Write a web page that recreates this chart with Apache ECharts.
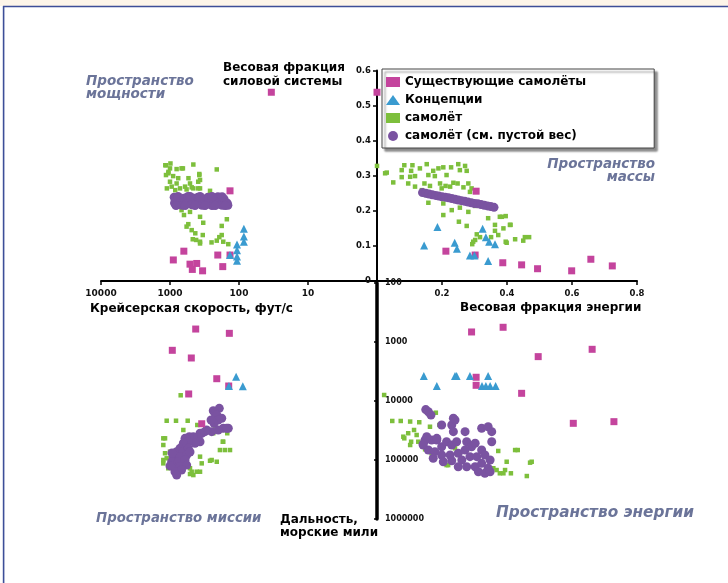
<!DOCTYPE html>
<html><head><meta charset="utf-8">
<script src="https://cdn.jsdelivr.net/npm/echarts@6/dist/echarts.min.js"></script>
<style>html,body{margin:0;padding:0;background:#fff}#c{width:728px;height:583px}</style>
</head><body><div id="c"></div>
<script>
// Legend names
const seriesNames = ['Существующие самолёты', 'Концепции', 'самолёт', 'самолёт (см. пустой вес)'];
// Tick values
const speedTicks = [1, 10, 100, 1000, 10000];
const fracTicks = [0, 0.2, 0.4, 0.6, 0.8];
const pwrTicks = [0, 0.1, 0.2, 0.3, 0.4, 0.5, 0.6];
const rangeTicks = [100, 1000, 10000, 100000, 1000000];

// ---- Power space: [cruise speed ft/s, power system weight fraction]
const spdPwr_existing = [[34,0.538],[135,0.257],[895,0.06],[630,0.085],[513,0.048],[475,0.033],[410,0.05],[337,0.029],[203,0.074],[172,0.041],[135,0.074]];
const spdPwr_concepts = [[85,0.149],[85,0.127],[85,0.112],[107,0.104],[107,0.088],[107,0.070],[107,0.058],[135,0.074]];
const spdPwr_aircraft = [[1143,0.330],[1000,0.321],[802,0.319],[650,0.321],[459,0.332],[210,0.318],[1055,0.307],[900,0.299],[760,0.293],[540,0.293],[376,0.302],[367,0.288],[1000,0.283],[802,0.278],[605,0.269],[485,0.267],[390,0.264],[263,0.257],[1110,0.264],[840,0.259],
 [1170,0.330],[1055,0.311],[1143,0.302],[985,0.335],[680,0.321],[376,0.305],[390,0.283],[513,0.278],[716,0.264],[575,0.261],[459,0.264],[367,0.264],[945,0.269],
 [680,0.202],[513,0.197],[367,0.183],[627,0.188],[543,0.162],[485,0.145],[430,0.136],[575,0.155],[330,0.166],[150,0.176],[178,0.157],[178,0.131],[468,0.119],[418,0.117],[367,0.112],[335,0.131],[250,0.110],[210,0.115],[193,0.125],[169,0.112],[143,0.105],[367,0.107]];
const spdPwr_empty = [[870,0.239],[860,0.222],[840,0.230],[818,0.217],[765,0.241],[716,0.225],[670,0.216],[627,0.236],[586,0.219],[548,0.241],[513,0.228],[480,0.217],[449,0.236],[420,0.219],[393,0.239],[367,0.225],[344,0.216],[321,0.234],[301,0.217],[281,0.239],[263,0.222],[246,0.215],[230,0.234],[215,0.217],[202,0.240],[189,0.225],[176,0.216],[165,0.234],[154,0.217],[148,0.222],[145,0.216],[818,0.215],[605,0.215],[434,0.215],[311,0.215],[513,0.241],[367,0.241],[246,0.241],[176,0.240],[222,0.215],[159,0.215]];

// ---- Mass space: [energy weight fraction, power system weight fraction]
const enPwr_existing = [[0,0.538],[0.305,0.256],[0.212,0.085],[0.302,0.074],[0.387,0.052],[0.445,0.046],[0.494,0.035],[0.599,0.029],[0.658,0.062],[0.724,0.043]];
const enPwr_concepts = [[0.145,0.101],[0.186,0.154],[0.239,0.109],[0.246,0.092],[0.286,0.073],[0.300,0.073],[0.325,0.149],[0.335,0.125],[0.345,0.112],[0.363,0.105],[0.342,0.057]];
const enPwr_aircraft = [[0,0.328],[0.030,0.309],[0.050,0.281],[0.084,0.330],[0.076,0.316],[0.105,0.314],[0.109,0.330],[0.132,0.321],[0.153,0.333],[0.158,0.302],[0.117,0.299],[0.102,0.297],[0.096,0.278],[0.117,0.269],[0.146,0.278],[0.138,0.259],[0.173,0.314],[0.178,0.299],[0.189,0.321],[0.204,0.324],[0.214,0.302],[0.211,0.271],[0.228,0.324],[0.235,0.280],[0.250,0.333],[0.255,0.316],[0.271,0.328],[0.276,0.314],[0.248,0.278],[0.266,0.267],[0.281,0.278],[0.291,0.264],[0.286,0.254],[0.225,0.269],[0.194,0.278],[0.199,0.264],[0.163,0.271],[0.153,0.245],[0.025,0.307],[0.076,0.296],
 [0.158,0.223],[0.204,0.221],[0.230,0.202],[0.204,0.188],[0.255,0.209],[0.281,0.197],[0.302,0.214],[0.342,0.179],[0.378,0.183],[0.396,0.185],[0.363,0.160],[0.389,0.150],[0.409,0.160],[0.252,0.169],[0.276,0.157],[0.302,0.117],[0.293,0.105],[0.373,0.131],[0.396,0.112],[0.425,0.119],[0.455,0.125],[0.468,0.125],[0.450,0.115],[0.317,0.125],[0.351,0.125],[0.384,0.183],[0.411,0.160],[0.363,0.143],[0.307,0.133],[0.296,0.112],[0.399,0.109]];
const enPwr_empty = [[0.14,0.252],[0.15,0.250],[0.16,0.248],[0.17,0.246],[0.18,0.244],[0.19,0.242],[0.20,0.240],[0.21,0.239],[0.22,0.237],[0.23,0.235],[0.24,0.233],[0.25,0.231],[0.26,0.229],[0.27,0.227],[0.28,0.225],[0.29,0.223],[0.30,0.221],[0.31,0.220],[0.32,0.218],[0.33,0.216],[0.34,0.214],[0.35,0.212],[0.36,0.210]];

// ---- Mission space: [cruise speed ft/s, range nmi]
const spdRange_existing = [[424,603],[138,713],[926,1383],[491,1866],[210,4190],[141,5570],[536,7600],[347,24300]];
const spdRange_concepts = [[110,3870],[140,5570],[88,5640]];
const spdRange_aircraft = [[700,8000],[1117,21600],[818,21600],[554,21600],[189,13300],[641,31000],[1180,42900],[1250,55700],[1180,76900],[1250,114000],[1059,138000],[513,138000],[410,158000],[513,173000],[347,114000],[249,100000],[210,107000],[189,67800],[160,67800],[135,67800],[169,49000],[148,35200],[1000,72300],[1117,93600],[367,87800],[178,31000],[223,26500],[402,25500],[1250,42900],[1250,100000],[263,103000],[485,158000],[367,158000],[459,180000],[236,35200],[172,49000]];
const spdRange_empty = [[193,13300],[236,14600],[223,16100],[210,17300],[178,19600],[200,21000],[230,23900],[254,21000],[143,29000],[169,29000],[151,29000],[200,31000],[249,33100],[294,31000],[311,33100],[347,35200],[367,35200],[389,40300],[459,42900],[459,40300],[525,40300],[573,45800],[605,42900],[367,49000],[434,52100],[543,49000],[641,52100],
 [716,63400],[800,72300],[641,72300],[543,63400],[896,87800],[716,87800],[573,82300],[945,107000],[759,107000],[605,100000],[896,130000],[716,130000],[573,122000],[847,158000],[680,148000],[800,180000],[935,76100],[513,73100],[1000,126000]];

// ---- Energy space: [energy weight fraction, range nmi]
const enRange_existing = [[0.291,676],[0.388,563],[0.662,1330],[0.496,1770],[0.305,3960],[0.305,5420],[0.445,7410],[0.604,23900],[0.729,22400]];
const enRange_concepts = [[0.144,3770],[0.240,3770],[0.245,3770],[0.286,3770],[0.342,3770],[0.184,5570],[0.323,5570],[0.335,5570],[0.348,5570],[0.365,5570]];
const enRange_aircraft = [[0.022,7910],[0.047,21800],[0.073,21800],[0.102,22300],[0.130,22900],[0.181,15800],[0.096,35200],[0.114,31000],[0.084,42900],[0.105,49000],[0.127,49000],[0.122,37700],[0.102,55700],[0.240,63400],[0.296,52100],[0.373,70300],[0.425,67800],[0.433,67800],[0.399,107000],[0.471,111000],[0.358,138000],[0.394,148000],[0.412,168000],[0.378,168000],[0.461,187000],[0.214,122000],[0.163,27300],[0.192,25500],[0.081,40300],[0.148,65900],[0.168,76900],[0.219,122000],[0.368,148000],[0.389,168000],[0.476,107000]];
const enRange_empty = [[0.158,15200],[0.150,14000],[0.166,17300],[0.199,25500],[0.230,25500],[0.240,21000],[0.235,33100],[0.271,33100],[0.322,29000],[0.342,27300],[0.353,33100],[0.353,49000],[0.148,45800],[0.168,45800],[0.184,45800],[0.142,55700],[0.158,67800],[0.178,72300],[0.199,59500],[0.214,49000],[0.230,55700],[0.245,49000],[0.276,49000],[0.291,59500],[0.302,52100],[0.322,67800],[0.199,82300],[0.225,82300],[0.250,76900],[0.271,67800],[0.173,93600],[0.204,107000],[0.230,103000],[0.261,100000],[0.286,87800],[0.307,87800],[0.332,82300],[0.348,100000],[0.250,130000],[0.276,130000],[0.302,130000],[0.322,114000],[0.342,138000],[0.312,158000],[0.332,168000],[0.348,158000],[0.235,19600],[0.153,40300],[0.184,42900],[0.142,53700]];

const C_PINK = '#c4449d', C_BLUE = '#3a9bd0', C_GREEN = '#7dbf3c', C_PURPLE = '#7a53a1';
const FONT = 'DejaVu Sans';
const QCOL = '#6b7499';

const chart = echarts.init(document.getElementById('c'), null, {renderer: 'canvas'});

const axisLabelStyle = (fs) => ({color: '#111', fontWeight: 'bold', fontFamily: FONT, fontSize: fs});
const hiddenAxis = (extra) => Object.assign({show: false, splitLine: {show: false}}, extra);

function mk(name, data, gi, sym, size, color, z) {
  return {name, type: 'scatter', xAxisIndex: gi, yAxisIndex: gi, data, symbol: sym, symbolSize: size,
    itemStyle: {color, opacity: 1}, z, silent: true, animation: false};
}
const groups = [
  [spdPwr_existing, spdPwr_concepts, spdPwr_aircraft, spdPwr_empty],
  [enPwr_existing, enPwr_concepts, enPwr_aircraft, enPwr_empty],
  [spdRange_existing, spdRange_concepts, spdRange_aircraft, spdRange_empty],
  [enRange_existing, enRange_concepts, enRange_aircraft, enRange_empty]
];
const series = [];
groups.forEach((g, gi) => {
  series.push(mk(seriesNames[2], g[2], gi, 'rect', 4.5, C_GREEN, 2));
  series.push(mk(seriesNames[3], g[3], gi, 'circle', 9, C_PURPLE, 3));
  series.push(mk(seriesNames[0], g[0], gi, 'rect', 7, C_PINK, 4));
  series.push(mk(seriesNames[1], g[1], gi, 'triangle', 8, C_BLUE, 5));
});

const txt = (x, y, text, opts) => ({type: 'text', x, y, z: 100, silent: true,
  style: Object.assign({text, fill: '#000', fontFamily: FONT, fontWeight: 'bold', fontSize: 12, align: 'left', verticalAlign: 'middle'}, opts || {})});
const qtxt = (x, y, text, fs, align) => txt(x, y, text, {fill: QCOL, fontStyle: 'italic', fontSize: fs, align: align || 'left'});

chart.setOption({
  backgroundColor: '#fff',
  animation: false,
  grid: [
    {left: 101, top: 70.5, width: 276, height: 210.5},
    {left: 377, top: 70.5, width: 260, height: 210.5},
    {left: 101, top: 283, width: 276, height: 236},
    {left: 377, top: 283, width: 260, height: 236}
  ],
  xAxis: [
    {gridIndex: 0, type: 'log', logBase: 10, min: speedTicks[0], max: speedTicks[4], inverse: true,
      axisLine: {lineStyle: {color: '#000', width: 2}}, axisTick: {length: 4, lineStyle: {color: '#000', width: 1.5}},
      axisLabel: Object.assign(axisLabelStyle(9), {margin: 8, formatter: v => v === 1 ? '' : String(v)}), splitLine: {show: false}},
    {gridIndex: 1, type: 'value', min: fracTicks[0], max: fracTicks[4], interval: 0.2,
      axisLine: {onZero: false, lineStyle: {color: '#000', width: 2}}, axisTick: {length: 4, lineStyle: {color: '#000', width: 1.5}},
      axisLabel: Object.assign(axisLabelStyle(8.5), {margin: 8, formatter: v => v === 0 ? '' : v.toFixed(1)}), splitLine: {show: false}},
    hiddenAxis({gridIndex: 2, type: 'log', logBase: 10, min: speedTicks[0], max: speedTicks[4], inverse: true}),
    hiddenAxis({gridIndex: 3, type: 'value', min: fracTicks[0], max: fracTicks[4]})
  ],
  yAxis: [
    hiddenAxis({gridIndex: 0, type: 'value', min: pwrTicks[0], max: pwrTicks[6]}),
    {gridIndex: 1, type: 'value', position: 'left', min: pwrTicks[0], max: pwrTicks[6], interval: 0.1,
      axisLine: {onZero: false, lineStyle: {color: '#000', width: 2}}, axisTick: {length: 4, lineStyle: {color: '#000', width: 1.5}},
      axisLabel: Object.assign(axisLabelStyle(8.5), {margin: 6, formatter: v => v === 0 ? '0' : v.toFixed(1)}), splitLine: {show: false}},
    hiddenAxis({gridIndex: 2, type: 'log', logBase: 10, min: rangeTicks[0], max: rangeTicks[4], inverse: true}),
    {gridIndex: 3, type: 'log', logBase: 10, position: 'left', min: rangeTicks[0], max: rangeTicks[4], inverse: true,
      axisLine: {lineStyle: {color: '#000', width: 3.5}}, axisTick: {length: 3, lineStyle: {color: '#000', width: 1.5}},
      axisLabel: Object.assign(axisLabelStyle(8), {inside: true, margin: 8, formatter: v => String(v)}), splitLine: {show: false}}
  ],
  legend: {
    data: seriesNames, orient: 'vertical', left: 382, top: 69,
    padding: [7, 68, 6, 4], itemWidth: 14, itemHeight: 10, itemGap: 6,
    backgroundColor: '#fff', borderColor: '#444', borderWidth: 1,
    shadowColor: 'rgba(0,0,0,0.45)', shadowBlur: 2, shadowOffsetX: 3, shadowOffsetY: 3,
    textStyle: {color: '#000', fontFamily: FONT, fontWeight: 'bold', fontSize: 12},
    selectedMode: false, z: 50
  },
  graphic: [
    {type: 'rect', shape: {x: 0, y: 0, width: 728, height: 6}, style: {fill: '#fdf5e9'}, silent: true, z: 90},
    {type: 'line', shape: {x1: 3, y1: 6.5, x2: 728, y2: 6.5}, style: {stroke: '#3d4e98', lineWidth: 1.6}, silent: true, z: 91},
    {type: 'line', shape: {x1: 3.6, y1: 6, x2: 3.6, y2: 583}, style: {stroke: '#3d4e98', lineWidth: 1.6}, silent: true, z: 91},
    txt(223, 68, 'Весовая фракция'),
    txt(223, 82, 'силовой системы'),
    txt(90, 309, 'Крейсерская скорость, фут/с'),
    txt(460, 308, 'Весовая фракция энергии'),
    txt(280, 520, 'Дальность,'),
    txt(280, 533, 'морские мили'),
    qtxt(86, 81, 'Пространство', 13.5),
    qtxt(86, 94, 'мощности', 13.5),
    qtxt(655, 164, 'Пространство', 13.5, 'right'),
    qtxt(655, 177, 'массы', 13.5, 'right'),
    qtxt(96, 519, 'Пространство миссии', 13.3),
    qtxt(496, 513, 'Пространство энергии', 15.3)
  ],
  series
});
</script></body></html>
